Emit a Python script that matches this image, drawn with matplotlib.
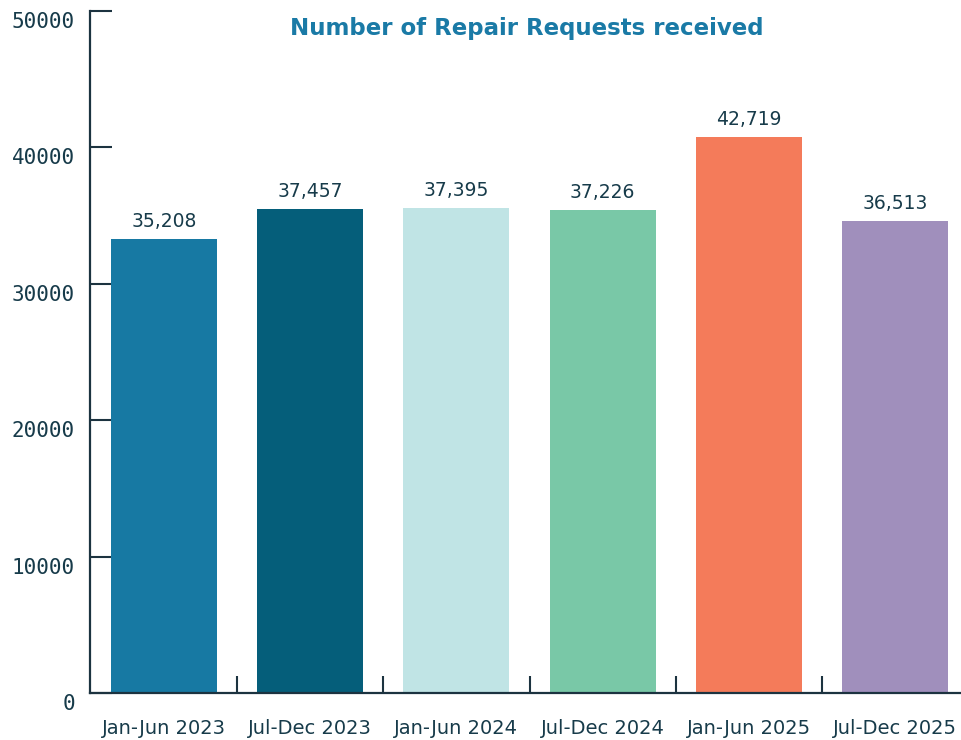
import matplotlib.pyplot as plt
import matplotlib.transforms as mtransforms

# data
periods = ["Jan-Jun 2023", "Jul-Dec 2023", "Jan-Jun 2024",
           "Jul-Dec 2024", "Jan-Jun 2025", "Jul-Dec 2025"]
bar_heights = [33280, 35480, 35560, 35410, 40760, 34600]
bar_labels = ["35,208", "37,457", "37,395", "37,226", "42,719", "36,513"]
y_ticks = [0, 10000, 20000, 30000, 40000, 50000]

colors = ["#1779a3", "#055e7a", "#c0e4e5", "#79c8a7", "#f47b5a", "#a08fbc"]
TEXT = "#173b4a"
AXIS = "#1c3340"

fig = plt.figure(figsize=(9.61, 7.40), dpi=100)
ax = fig.add_axes([0.0937, 0.0635, 0.9137, 0.9216])

x = list(range(len(periods)))
ax.bar(x, bar_heights, width=0.725, color=colors, zorder=2)

for xi, h, lab in zip(x, bar_heights, bar_labels):
    ax.annotate(lab, (xi, h), xytext=(0, 6), textcoords="offset points",
                ha="center", va="bottom", fontsize=13.5, color=TEXT)

ax.set_xlim(-0.506, 5.5)
ax.set_ylim(0, 50000)

# spines
for s in ["top", "right"]:
    ax.spines[s].set_visible(False)
ax.spines["left"].set_linewidth(1.6)
ax.spines["left"].set_color(AXIS)
ax.spines["bottom"].set_linewidth(1.6)
ax.spines["bottom"].set_color(AXIS)

# y ticks
ax.set_yticks(y_ticks)
ax.set_yticklabels([str(t) for t in y_ticks], family="DejaVu Sans Mono",
                   fontsize=15, color=TEXT)
ax.tick_params(axis="y", direction="in", length=16, width=1.5,
               color=AXIS, pad=11)
shift = mtransforms.ScaledTranslation(0, -9 / 100, fig.dpi_scale_trans)
for lbl in ax.get_yticklabels():
    lbl.set_transform(lbl.get_transform() + shift)

# x ticks: marks between bars, labels under bars
ax.set_xticks([i + 0.5 for i in x[:-1]])
ax.set_xticklabels([])
ax.tick_params(axis="x", direction="in", length=12, width=1.5, color=AXIS)
ax.set_xticks(x, minor=True)
ax.set_xticklabels(periods, minor=True, fontsize=14, color=TEXT)
ax.tick_params(axis="x", which="minor", length=0, pad=19)

fig.text(0.548, 0.961, "Number of Repair Requests received", ha="center",
         va="center", fontsize=16.5, fontweight="bold", color="#1a7aa6")

fig.savefig("out.png", dpi=100)
